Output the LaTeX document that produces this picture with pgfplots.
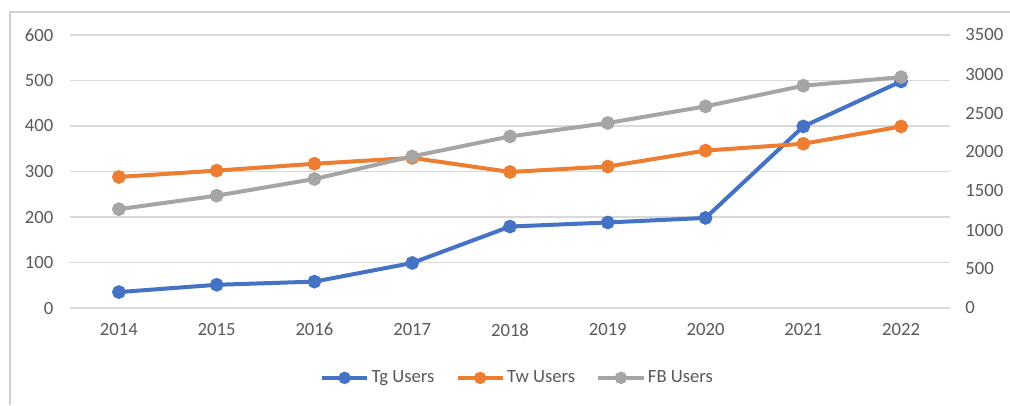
\documentclass[border=0pt]{standalone}
\usepackage{fontspec}
\setmainfont{Carlito}
\usepackage{pgfplots}
\pgfplotsset{compat=1.18}
\definecolor{cblue}{HTML}{4472C4}
\definecolor{corange}{HTML}{ED7D31}
\definecolor{cgray}{HTML}{A5A5A5}
\definecolor{gridc}{HTML}{D9D9D9}
\definecolor{tickc}{HTML}{595959}
\definecolor{framec}{HTML}{D0D0D0}
\begin{document}
\begin{tikzpicture}
\useasboundingbox (-52.5pt,-72.75pt) rectangle (705pt,231pt);
\fill[white] (-52.5pt,-72.75pt) rectangle (705pt,231pt);
\draw[framec, line width=0.9pt] (-45pt,-72.75pt) -- (-45pt,222pt) -- (705pt,222pt);
\pgfplotsset{
  common/.style={
    at={(0pt,0pt)}, anchor=south west,
    scale only axis, width=660pt, height=204.75pt,
    xmin=-0.5, xmax=8.5,
    axis line style={draw=none},
    major tick length=0pt,
    tick style={draw=none},
    ticklabel style={font=\fontsize{14}{16}\selectfont, text=tickc},
    /pgf/number format/assume math mode=true,
    /pgf/number format/1000 sep={},
    clip=false,
  },
  ser/.style={line width=3pt, mark=*, mark size=3.6pt, mark options={solid}},
}
\begin{axis}[common,
  ymin=0, ymax=600, ytick={0,100,...,600},
  xtick={0,...,8}, xticklabels={2014,2015,2016,2017,2018,2019,2020,2021,2022},
  xticklabel style={yshift=-8pt},
  yticklabel style={xshift=-9pt},
  ymajorgrids, grid style={gridc, line width=0.8pt},
  legend columns=-1,
  legend style={draw=none, fill=none, at={(0.509,-0.256)}, anchor=center,
    font=\fontsize{14}{16}\selectfont, text=tickc,
    /tikz/every even column/.append style={column sep=14pt},
    /tikz/every odd column/.append style={column sep=0pt}},
  legend image code/.code={\draw[line width=2.6pt, mark size=3.3pt, mark repeat=2, mark phase=2] plot coordinates {(0pt,0pt) (17pt,0pt) (34pt,0pt)};},
]
\addplot[ser, color=cblue] coordinates {(0,35) (1,51) (2,58) (3,99) (4,179) (5,188) (6,198) (7,399) (8,498)};
\addlegendentry{Tg Users}
\addplot[ser, color=corange] coordinates {(0,288) (1,302) (2,317) (3,330) (4,299) (5,311) (6,346) (7,361) (8,399)};
\addlegendentry{Tw Users}
\addlegendimage{ser, color=cgray}
\addlegendentry{FB Users}
\end{axis}
\begin{axis}[common,
  ymin=0, ymax=3500, ytick={0,500,...,3500},
  yticklabel pos=right,
  yticklabel style={xshift=8pt},
  xtick=\empty,
]
\addplot[ser, color=cgray] coordinates {(0,1267) (1,1440) (2,1654) (3,1944) (4,2200) (5,2372) (6,2585) (7,2850) (8,2960)};
\end{axis}
\end{tikzpicture}
\end{document}
